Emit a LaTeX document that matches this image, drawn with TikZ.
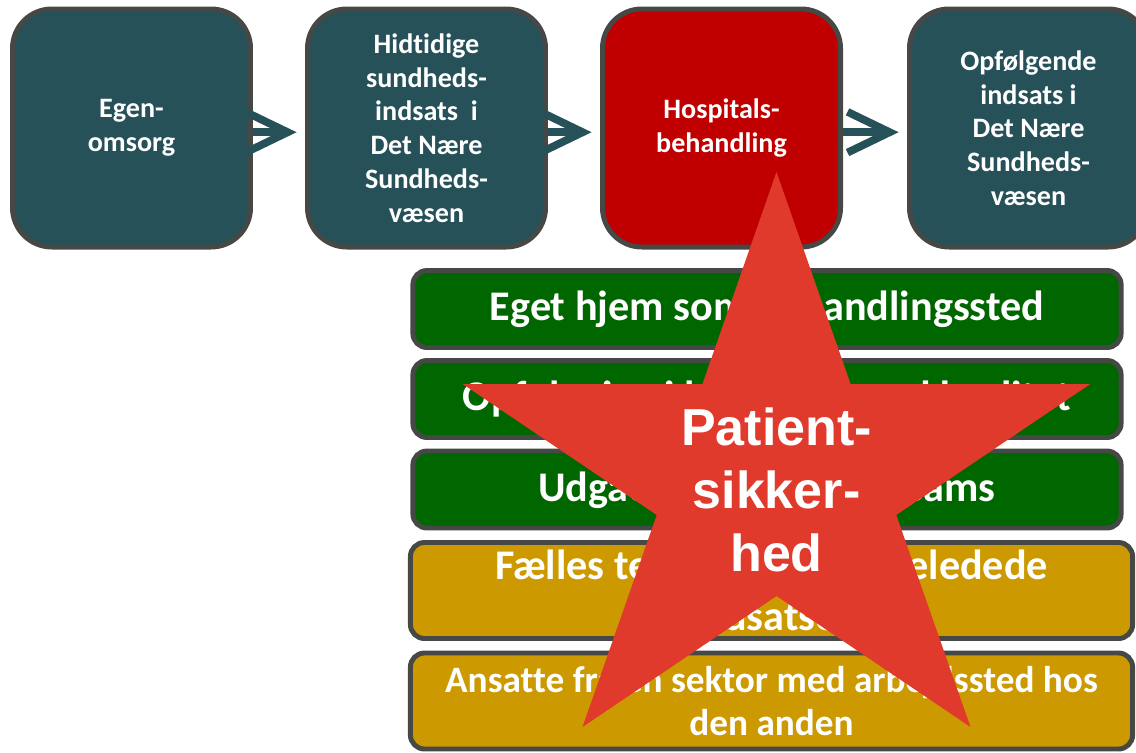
\documentclass[tikz,border=0pt]{standalone}
\usepackage{fontspec}
\setmainfont{Carlito}[Ligatures=NoCommon]
\newfontfamily\starfont{Liberation Sans}
\usetikzlibrary{arrows.meta}
\definecolor{tealbox}{RGB}{38,81,88}
\definecolor{hospred}{RGB}{192,0,0}
\definecolor{edgegray}{RGB}{70,72,70}
\definecolor{homegreen}{RGB}{0,102,0}
\definecolor{gold}{RGB}{204,153,0}
\definecolor{starred}{RGB}{224,58,44}
\tikzset{
  stage/.style={draw=edgegray, line width=3.5pt, rounded corners=28pt, fill=tealbox,
    text=white, minimum width=5.95cm, minimum height=5.95cm, inner sep=0pt,
    align=center, font=\bfseries\fontsize{20}{24}\selectfont},
  band/.style={draw=edgegray, line width=3.5pt, rounded corners=10pt, fill=homegreen,
    text=white, minimum width=17.7cm, minimum height=1.925cm, inner sep=0pt,
    align=center, font=\bfseries\fontsize{30}{36}\selectfont},
  wideband/.style={band, fill=gold, minimum width=18.05cm, minimum height=2.4cm},
  flow/.style={draw=tealbox, line width=5.5pt, -{Straight Barb[length=30pt,width=29pt]}, shorten >=6pt}
}
\begin{document}
\begin{tikzpicture}[x=0.025cm, y=-0.025cm]
\useasboundingbox (0,0) rectangle (1136,752);
% stages along the top
\node[stage] (egen) at (131.5,128) {Egen-\\omsorg};
\node[stage] (hidtidig) at (426.5,128) {Hidtidige\\sundheds-\\indsats\ \ i\\Det Nære\\Sundheds-\\væsen};
\node[stage, fill=hospred] (hospital) at (721.5,128) {Hospitals-\\behandling};
\node[stage] (opfolg) at (1028.5,128) {Opfølgende\\indsats i\\Det Nære\\Sundheds-\\væsen};
\draw[flow] ([yshift=-3pt]egen.east) -- ([yshift=-3pt]hidtidig.west);
\draw[flow] ([yshift=-3pt]hidtidig.east) -- ([yshift=-3pt]hospital.west);
\draw[flow] ([yshift=-3pt]hospital.east) -- ([yshift=-3pt]opfolg.west);
% bands
\node[band] (hjem) at (767,309) {Eget hjem som behandlingssted};
\node[band] (hjemmet) at (767,399) {Opfølgning i hjemmet med kvalitet};
\node[band] (udgaaende) at (767,489.5) {Udgående sygeplejeteams};
\node[wideband] (faelles) at (771.5,590.5) {Fælles teams og delt teleledede\\indsatser};
\node[wideband, font=\bfseries\fontsize{26.5}{31}\selectfont] (ansatte) at (771.5,701) {Ansatte fra én sektor med arbejdssted hos\\den anden};
% star
\fill[starred] (776.5,172) -- (850.6,384) -- (1090.3,384) -- (896.3,515) -- (970.5,727)
  -- (776.5,596) -- (582.5,727) -- (656.7,515) -- (462.7,384) -- (702.4,384) -- cycle;
\node[text=white, align=center, font=\starfont\bfseries\fontsize{37}{45}\selectfont] (sikkerhed) at (776.5,490) {Patient-\\sikker-\\hed};
\end{tikzpicture}
\end{document}
